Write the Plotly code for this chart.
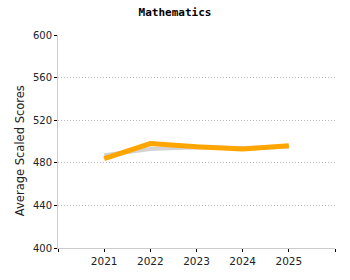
import plotly.graph_objects as go

years = [2021, 2022, 2023, 2024, 2025]
benchmark = [487, 493, 494.5, 494, 495]
math_scores = [484, 498, 495, 493, 496]
y_ticks = [400, 440, 480, 520, 560, 600]

fig = go.Figure()
fig.add_trace(go.Scatter(x=years, y=benchmark, mode="lines",
                         line=dict(color="#d3d3d3", width=4), hoverinfo="skip"))
fig.add_trace(go.Scatter(x=years, y=math_scores, mode="lines",
                         line=dict(color="#ffa500", width=5)))

fig.update_layout(
    width=350, height=280,
    margin=dict(l=58, r=15, t=35, b=32),
    paper_bgcolor="white", plot_bgcolor="white",
    showlegend=False,
    font=dict(family="DejaVu Sans", size=10, color="#222"),
    title=dict(text="<b>Mathematics</b>", x=0.5, xanchor="center", y=0.955, yanchor="middle",
               font=dict(family="DejaVu Sans Mono", size=11, color="#000")),
    annotations=[dict(text="Average Scaled Scores", xref="paper", yref="paper",
                      x=-0.137, y=0.455, xanchor="center", yanchor="middle",
                      textangle=-90, showarrow=False,
                      font=dict(family="DejaVu Sans", size=11.5, color="#222"))],
)
fig.update_xaxes(range=[2020, 2026], tickvals=[2020, 2021, 2022, 2023, 2024, 2025, 2026],
                 ticktext=["", "2021", "2022", "2023", "2024", "2025", ""],
                 showgrid=False, zeroline=False, showline=True, linecolor="#cccccc", linewidth=1,
                 ticks="outside", ticklen=3, tickcolor="#000", tickfont=dict(size=10.5))
fig.update_yaxes(range=[400, 600], tickvals=y_ticks, showgrid=True, gridcolor="#b8b8b8",
                 griddash="1px,2px", gridwidth=1, zeroline=False, showline=True, linecolor="#cccccc",
                 ticks="outside", ticklen=3, tickcolor="#000", tickfont=dict(size=10))

fig.write_html("out.html")
